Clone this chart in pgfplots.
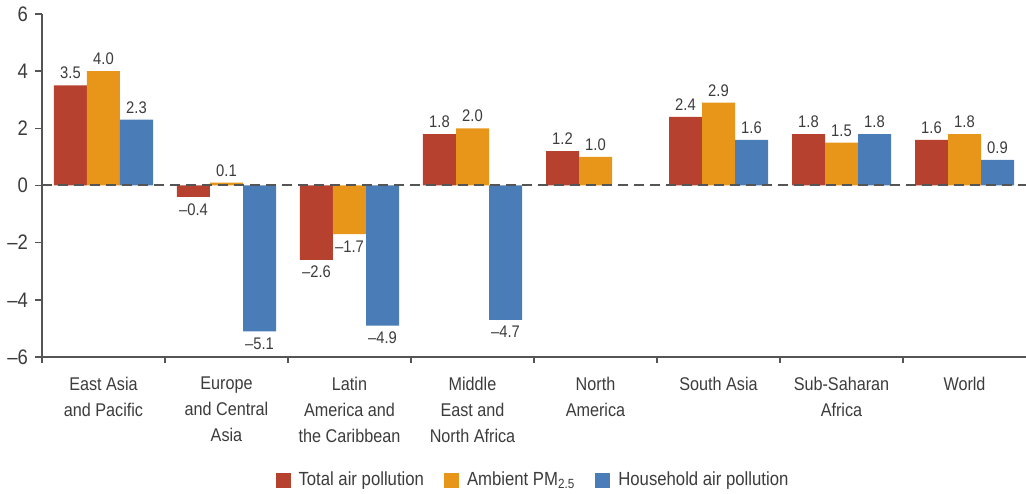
\documentclass[border=0pt]{standalone}
\usepackage{pgfplots}
\pgfplotsset{compat=1.18}
\usetikzlibrary{calc}
\usepackage{fontspec}
\setmainfont{Liberation Sans}[FakeStretch=0.88]

\definecolor{cTotal}{HTML}{B5412E}
\definecolor{cAmb}{HTML}{E8961A}
\definecolor{cHouse}{HTML}{4A7DB7}
\definecolor{axgray}{HTML}{555555}
\definecolor{txtgray}{HTML}{3C3C3C}

\begin{document}
\begin{tikzpicture}
\begin{axis}[
    scale only axis,
    width=492pt, height=171.5pt,
    ybar=0pt, bar width=16.5pt,
    xmin=-0.5, xmax=7.5, ymin=-6, ymax=6,
    axis x line*=bottom, axis y line*=left,
    axis line style={draw=axgray, line width=0.7pt},
    tick align=outside,
    major tick length=3.5pt, minor tick length=3pt,
    every tick/.append style={draw=axgray, line width=0.7pt},
    ytick={-6,-4,-2,0,2,4,6},
    yticklabels={–6,–4,–2,0,2,4,6},
    yticklabel style={font=\fontsize{10.5}{12}\selectfont, text=txtgray},
    xtick={0,...,7},
    every major x tick/.append style={draw=none},
    minor xtick={-0.5,0.5,...,6.5},
    xticklabels={{East Asia\\and Pacific},{Europe\\and Central\\Asia},{Latin\\America and\\the Caribbean},{Middle\\East and\\North Africa},{North\\America},{South Asia},{Sub-Saharan\\Africa},{World}},
    xticklabel style={align=center, font=\fontsize{9.2}{13}\selectfont, text=txtgray, yshift=-3pt},
    point meta=explicit symbolic,
    nodes near coords,
    visualization depends on={y \as \rawy},
    nodes near coords style={font=\fontsize{8.4}{10}\selectfont, text=txtgray,
        anchor=\ifdim\rawy pt<0pt north\else south\fi, inner sep=3pt},
    legend style={at={(0.5,-0.31)}, anchor=north, draw=none, legend columns=3,
        font=\fontsize{9.5}{11}\selectfont, text=txtgray,
        /tikz/every even column/.append style={column sep=8pt}},
    legend image code/.code={\fill[#1] (0pt,-3.75pt) rectangle (7.5pt,3.75pt);
        \path (9.5pt,0pt);},
    clip=false,
]
\addplot[fill=cTotal, draw=none] coordinates {
    (0,3.5)[3.5] (1,-0.4)[–0.4] (2,-2.6)[–2.6] (3,1.8)[1.8]
    (4,1.2)[1.2] (5,2.4)[2.4] (6,1.8)[1.8] (7,1.6)[1.6]
};
\addplot[fill=cAmb, draw=none] coordinates {
    (0,4.0)[4.0] (1,0.1)[0.1] (2,-1.7)[–1.7] (3,2.0)[2.0]
    (4,1.0)[1.0] (5,2.9)[2.9] (6,1.5)[1.5] (7,1.8)[1.8]
};
\addplot[fill=cHouse, draw=none] coordinates {
    (0,2.3)[2.3] (1,-5.1)[–5.1] (2,-4.9)[–4.9] (3,-4.7)[–4.7]
    (5,1.6)[1.6] (6,1.8)[1.8] (7,0.9)[0.9]
};
\legend{Total air pollution, Ambient PM\textsubscript{2.5}, Household air pollution}
\draw[axgray, line width=1pt, dash pattern=on 5pt off 3pt] (axis cs:-0.5,0) -- (axis cs:7.5,0);
\coordinate (BL) at (rel axis cs:0,0);
\coordinate (TR) at (rel axis cs:1,1);
\end{axis}
\pgfresetboundingbox
\path ($(BL)+(-21pt,-68.5pt)$) rectangle ($(TR)+(0pt,7pt)$);
\end{tikzpicture}
\end{document}
